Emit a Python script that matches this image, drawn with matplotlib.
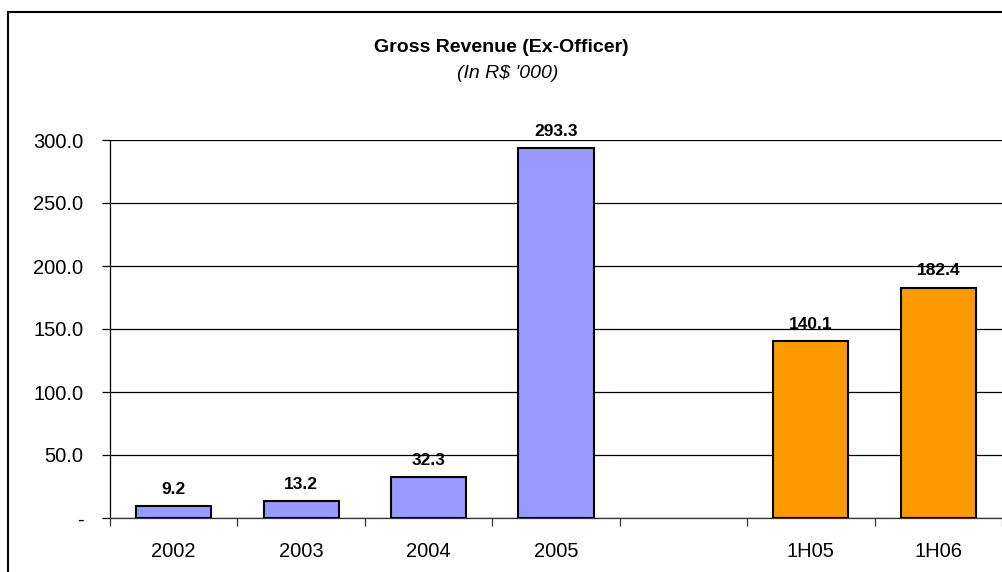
import matplotlib
matplotlib.use("Agg")
import matplotlib.pyplot as plt
from matplotlib.patches import Rectangle
import numpy as np

plt.rcParams['font.family'] = ['Liberation Sans', 'DejaVu Sans']

categories = ["2002", "2003", "2004", "2005", "", "1H05", "1H06"]
values = [9.2, 13.2, 32.3, 293.3, None, 140.1, 182.4]
colors = ["#9999FF", "#9999FF", "#9999FF", "#9999FF", "none", "#FF9900", "#FF9900"]
yticks = [0, 50, 100, 150, 200, 250, 300]
yticklabels = ["-", "50.0", "100.0", "150.0", "200.0", "250.0", "300.0"]
title = "Gross Revenue (Ex-Officer)"
subtitle = "(In R$ '000)"

W, H = 1003, 572
fig = plt.figure(figsize=(W / 100, H / 100), dpi=100)

# outer frame
fig.add_artist(Rectangle((8 / W, -0.1), 1.2, (H - 12) / H + 0.1, transform=fig.transFigure,
                         fill=False, edgecolor="black", linewidth=1.5))

ax = fig.add_axes([110 / W, (H - 518) / H, (1002 - 110) / W, (518 - 140) / H])

x = np.arange(len(categories))
for xi, v, c in zip(x, values, colors):
    if v is None:
        continue
    ax.bar(xi, v, width=0.59, color=c, edgecolor="black", linewidth=1.5, zorder=3)
    ax.annotate(f"{v:.1f}", (xi, v), xytext=(0, 7), textcoords="offset points",
                ha="center", va="bottom", fontsize=12.5, fontweight="bold", zorder=4)

ax.set_xlim(-0.5, len(categories) - 0.5)
ax.set_ylim(0, 300)
ax.set_yticks(yticks)
ax.set_yticklabels(yticklabels, fontsize=14.5)
ax.yaxis.grid(True, color="black", linewidth=0.9, zorder=0)
ax.set_axisbelow(True)

ax.set_xticks(x)
ax.set_xticklabels(categories, fontsize=14.5)
ax.tick_params(axis="x", length=0, pad=17)
ax.set_xticks(np.arange(len(categories) + 1) - 0.5, minor=True)
ax.tick_params(axis="x", which="minor", length=6, width=0.9, color="#333333")
ax.tick_params(axis="y", length=6, width=0.9, pad=13)

for s in ["top", "right"]:
    ax.spines[s].set_visible(False)
ax.spines["left"].set_linewidth(0.9)
ax.spines["bottom"].set_linewidth(0.9)
ax.spines["bottom"].set_color("#333333")

fig.text(0.5, 1 - 47 / H, title, ha="center", va="center", fontsize=14, fontweight="bold")
fig.text(508 / W, 1 - 74 / H, subtitle, ha="center", va="center", fontsize=14, style="italic")

fig.savefig("out.png", dpi=100)
